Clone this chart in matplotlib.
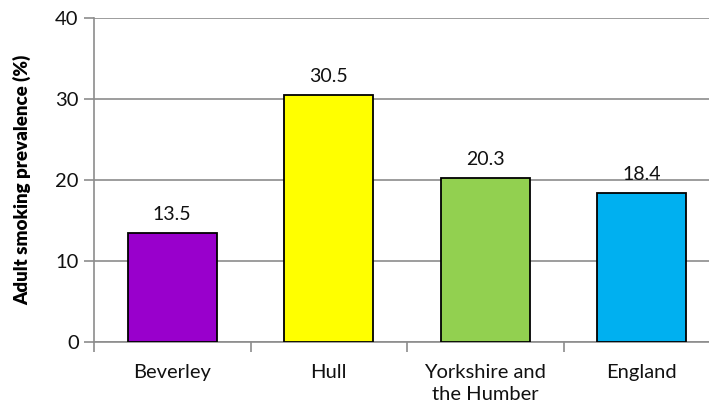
import numpy as np
import matplotlib.pyplot as plt

categories = ["Beverley", "Hull", "Yorkshire and\nthe Humber", "England"]
values = [13.5, 30.5, 20.3, 18.4]
colors = ["#9900CC", "#FFFF00", "#92D050", "#00B0F0"]
yticks = [0, 10, 20, 30, 40]

plt.rcParams['font.family'] = ['Lato', 'DejaVu Sans']

fig = plt.figure(figsize=(7.09, 4.08), dpi=100)
ax = fig.add_axes([94 / 709, 66 / 408, 626 / 709, 324 / 408])

x = np.arange(len(categories))
bars = ax.bar(x, values, width=0.57, color=colors, edgecolor="black", linewidth=1.3, zorder=3)

for xi, v in zip(x, values):
    ax.text(xi, v + 1.2, f"{v:.1f}", ha="center", va="bottom", fontsize=14, color="#111111")

ax.set_xlim(-0.5, 3.5)
ax.set_ylim(0, 40)
ax.set_yticks(yticks)
ax.yaxis.grid(True, color="#8c8c8c", linewidth=1.2, zorder=0)

ax.set_xticks(x)
ax.set_xticklabels(categories, fontsize=14.5, color="#111111", linespacing=1.35)
ax.set_xticks(np.arange(len(categories) + 1) - 0.5, minor=True)
ax.tick_params(axis="x", which="major", length=0, pad=16)
ax.tick_params(axis="x", which="minor", length=7, width=1.2, color="#8c8c8c", direction="out")
ax.tick_params(axis="y", length=7, width=1.2, color="#8c8c8c", labelsize=14.5, labelcolor="#111111", pad=4)

for s in ["top", "right"]:
    ax.spines[s].set_visible(False)
for s in ["left", "bottom"]:
    ax.spines[s].set_color("#8c8c8c")
    ax.spines[s].set_linewidth(1.2)

ax.set_ylabel("Adult smoking prevalence (%)", fontsize=13.5, fontweight="heavy", labelpad=17)

fig.savefig("out.png", dpi=100)
